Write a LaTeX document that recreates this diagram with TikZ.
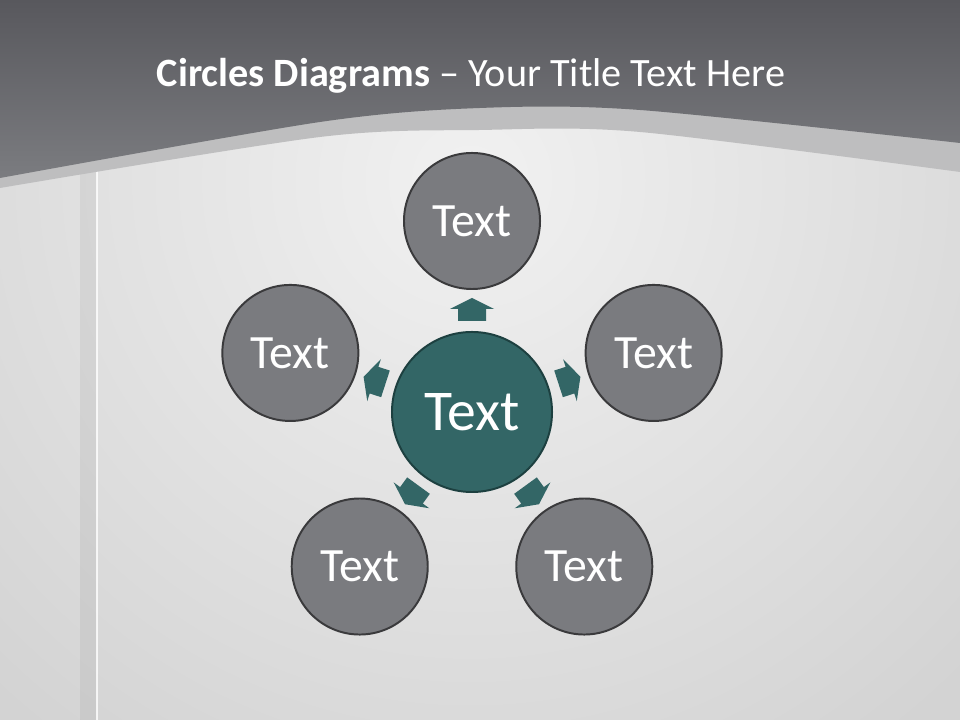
\documentclass[tikz,border=0pt]{standalone}
\usepackage{fontspec}
\setmainfont{Carlito}
\usepackage{xcolor}
\usetikzlibrary{calc}

\definecolor{bandtop}{HTML}{58585D}
\definecolor{bandbottom}{HTML}{7B7C80}
\definecolor{bandlight}{HTML}{BEBEBF}
\definecolor{paperlight}{HTML}{F1F1F1}
\definecolor{paperdark}{HTML}{D3D3D3}
\definecolor{ringgrey}{HTML}{7A7B7F}
\definecolor{ringline}{HTML}{3A3A3C}
\definecolor{hubteal}{HTML}{336666}
\definecolor{hubline}{HTML}{1D4040}

\begin{document}
\begin{tikzpicture}[
		x=0.025cm, y=0.025cm,
		outer/.style={
			circle, draw=ringline, fill=ringgrey,
			line width=1.4pt, minimum size=3.4cm, inner sep=0pt,
			text=white, font=\fontsize{34}{34}\selectfont
			},
		hub/.style={
			circle, draw=hubline, fill=hubteal,
			line width=1.4pt, minimum size=4cm, inner sep=0pt,
			text=white, font=\fontsize{41}{41}\selectfont
			},
		flow/.style={
			fill=hubteal
			}
		]

		% background
		\useasboundingbox (0,0) rectangle (960,720);
		\fill[paperdark] (0,0) rectangle (960,720);
		\begin{scope}
			\clip (0,0) rectangle (960,720);
			\shade[inner color=paperlight, outer color=paperdark] (-230,-160) rectangle (1170,1240);
		\end{scope}
		\fill[black, opacity=0.05] (80,0) rectangle (97,560);
		\draw[white, opacity=0.8, line width=1pt] (97,0) -- (97,560);

		\fill[bandlight] (0,720) -- plot[smooth] coordinates {(0,532) (320,583) (480,590) (640,588) (960,548)} -- (960,720) -- cycle;
		\shade[top color=bandtop, bottom color=bandbottom] (0,720) -- plot[smooth] coordinates {(0,542) (320,598) (480,612) (640,610) (960,577)} -- (960,720) -- cycle;

		\node[text=white, font=\fontsize{28.6}{31}\selectfont] (title) at (471,644) {\textbf{Circles Diagrams} -- Your Title Text Here};

		% circles
		\node[hub] (hub) at (472,308) {Text};
		\node[outer] (top) at ($(hub)+(90:191)$) {Text};
		\node[outer] (left) at ($(hub)+(162:191)$) {Text};
		\node[outer] (botleft) at ($(hub)+(234:191)$) {Text};
		\node[outer] (botright) at ($(hub)+(306:191)$) {Text};
		\node[outer] (right) at ($(hub)+(18:191)$) {Text};

		% arrows
		\foreach \ang in {90,162,234,306,18}
			\fill[flow, shift={(hub.center)}, rotate=\ang-90] (-14,91) --++(0,12) --++(-8,0) --++(22,11) --++(22,-11) --++(-8,0) --++(0,-12) -- cycle;

	\end{tikzpicture}
\end{document}
